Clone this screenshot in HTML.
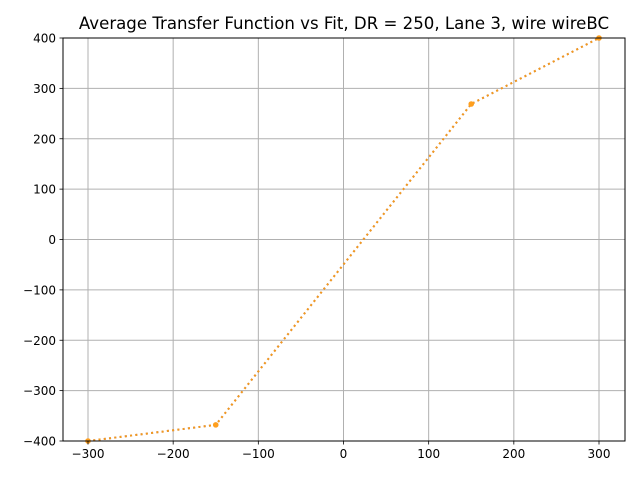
<!DOCTYPE html>
<html><head><meta charset="utf-8"><style>
body{margin:0;background:#fff;font-family:"Liberation Sans","DejaVu Sans",sans-serif}
text{font-family:"DejaVu Sans","Liberation Sans",sans-serif}
</style></head><body>
<svg id="chart" width="640" height="480" xmlns="http://www.w3.org/2000/svg">
<rect width="640" height="480" fill="#fff"/>
<text x="344" y="29" font-size="16.6" text-anchor="middle">Average Transfer Function vs Fit, DR = 250, Lane 3, wire wireBC</text>
<g id="grid"></g><g id="series"></g><g id="axes"></g>
</svg>
<script>
const xTicks=[-300,-200,-100,0,100,200,300];
const yTicks=[-400,-300,-200,-100,0,100,200,300,400];
const dataX=[-300,-150,150,300];
const dataY=[-400,-368,269,400];
const fitX=[-300,-150,150,300];
const fitY=[-400,-368,269,400];
const L=63,R=625,T=38,B=441;
function sx(v){return 343.5+v*(511/600);}
function sy(v){return 239.5-v*(403/800);}
const NS="http://www.w3.org/2000/svg";
function mk(p,t,a){const e=document.createElementNS(NS,t);for(const k in a)e.setAttribute(k,a[k]);p.appendChild(e);return e;}
const g=document.getElementById('grid'),s=document.getElementById('series'),ax=document.getElementById('axes');
xTicks.forEach(v=>{
 const l=mk(g,'line',{x1:sx(v),x2:sx(v),y1:T,y2:B,stroke:'#b0b0b0','stroke-width':1});
 
 
 mk(ax,'line',{x1:sx(v),x2:sx(v),y1:B,y2:B+3.5,stroke:'#000','stroke-width':0.8});
 const t=mk(ax,'text',{x:sx(v),y:B+17,'font-size':12,'text-anchor':'middle'});
 t.textContent=String(v).replace('-','\u2212');
 
 
});
yTicks.forEach(v=>{
 const l=mk(g,'line',{x1:L,x2:R,y1:sy(v),y2:sy(v),stroke:'#b0b0b0','stroke-width':1});
 
 
 mk(ax,'line',{x1:L-3.5,x2:L,y1:sy(v),y2:sy(v),stroke:'#000','stroke-width':0.8});
 const t=mk(ax,'text',{x:L-7,y:sy(v)+4.5,'font-size':12,'text-anchor':'end'});
 t.textContent=String(v).replace('-','\u2212');
 
 
});
const fr=mk(ax,'rect',{x:L,y:T,width:R-L,height:B-T,fill:'none',stroke:'#000','stroke-width':1});


const d1=dataX.map((x,i)=>sx(x)+','+sy(dataY[i])).join(' ');
const p1=mk(s,'polyline',{points:d1,fill:'none',stroke:'#b07fa0','stroke-width':2,'stroke-dasharray':'2,3.3'});


dataX.forEach((x,i)=>{
 const c=mk(s,'circle',{cx:sx(x),cy:sy(dataY[i]),r:2.5,fill:'#1f77b4'});
 
 
});
const d2=fitX.map((x,i)=>sx(x)+','+sy(fitY[i])).join(' ');
const p2=mk(s,'polyline',{points:d2,fill:'none',stroke:'#f39a1c','stroke-width':2,'stroke-dasharray':'2,3.3'});


fitX.forEach((x,i)=>{
 const c=mk(s,'circle',{cx:sx(x),cy:sy(fitY[i]),r:2.8,fill:'#ff9f1e'});
 
 
});
</script>
</body></html>
